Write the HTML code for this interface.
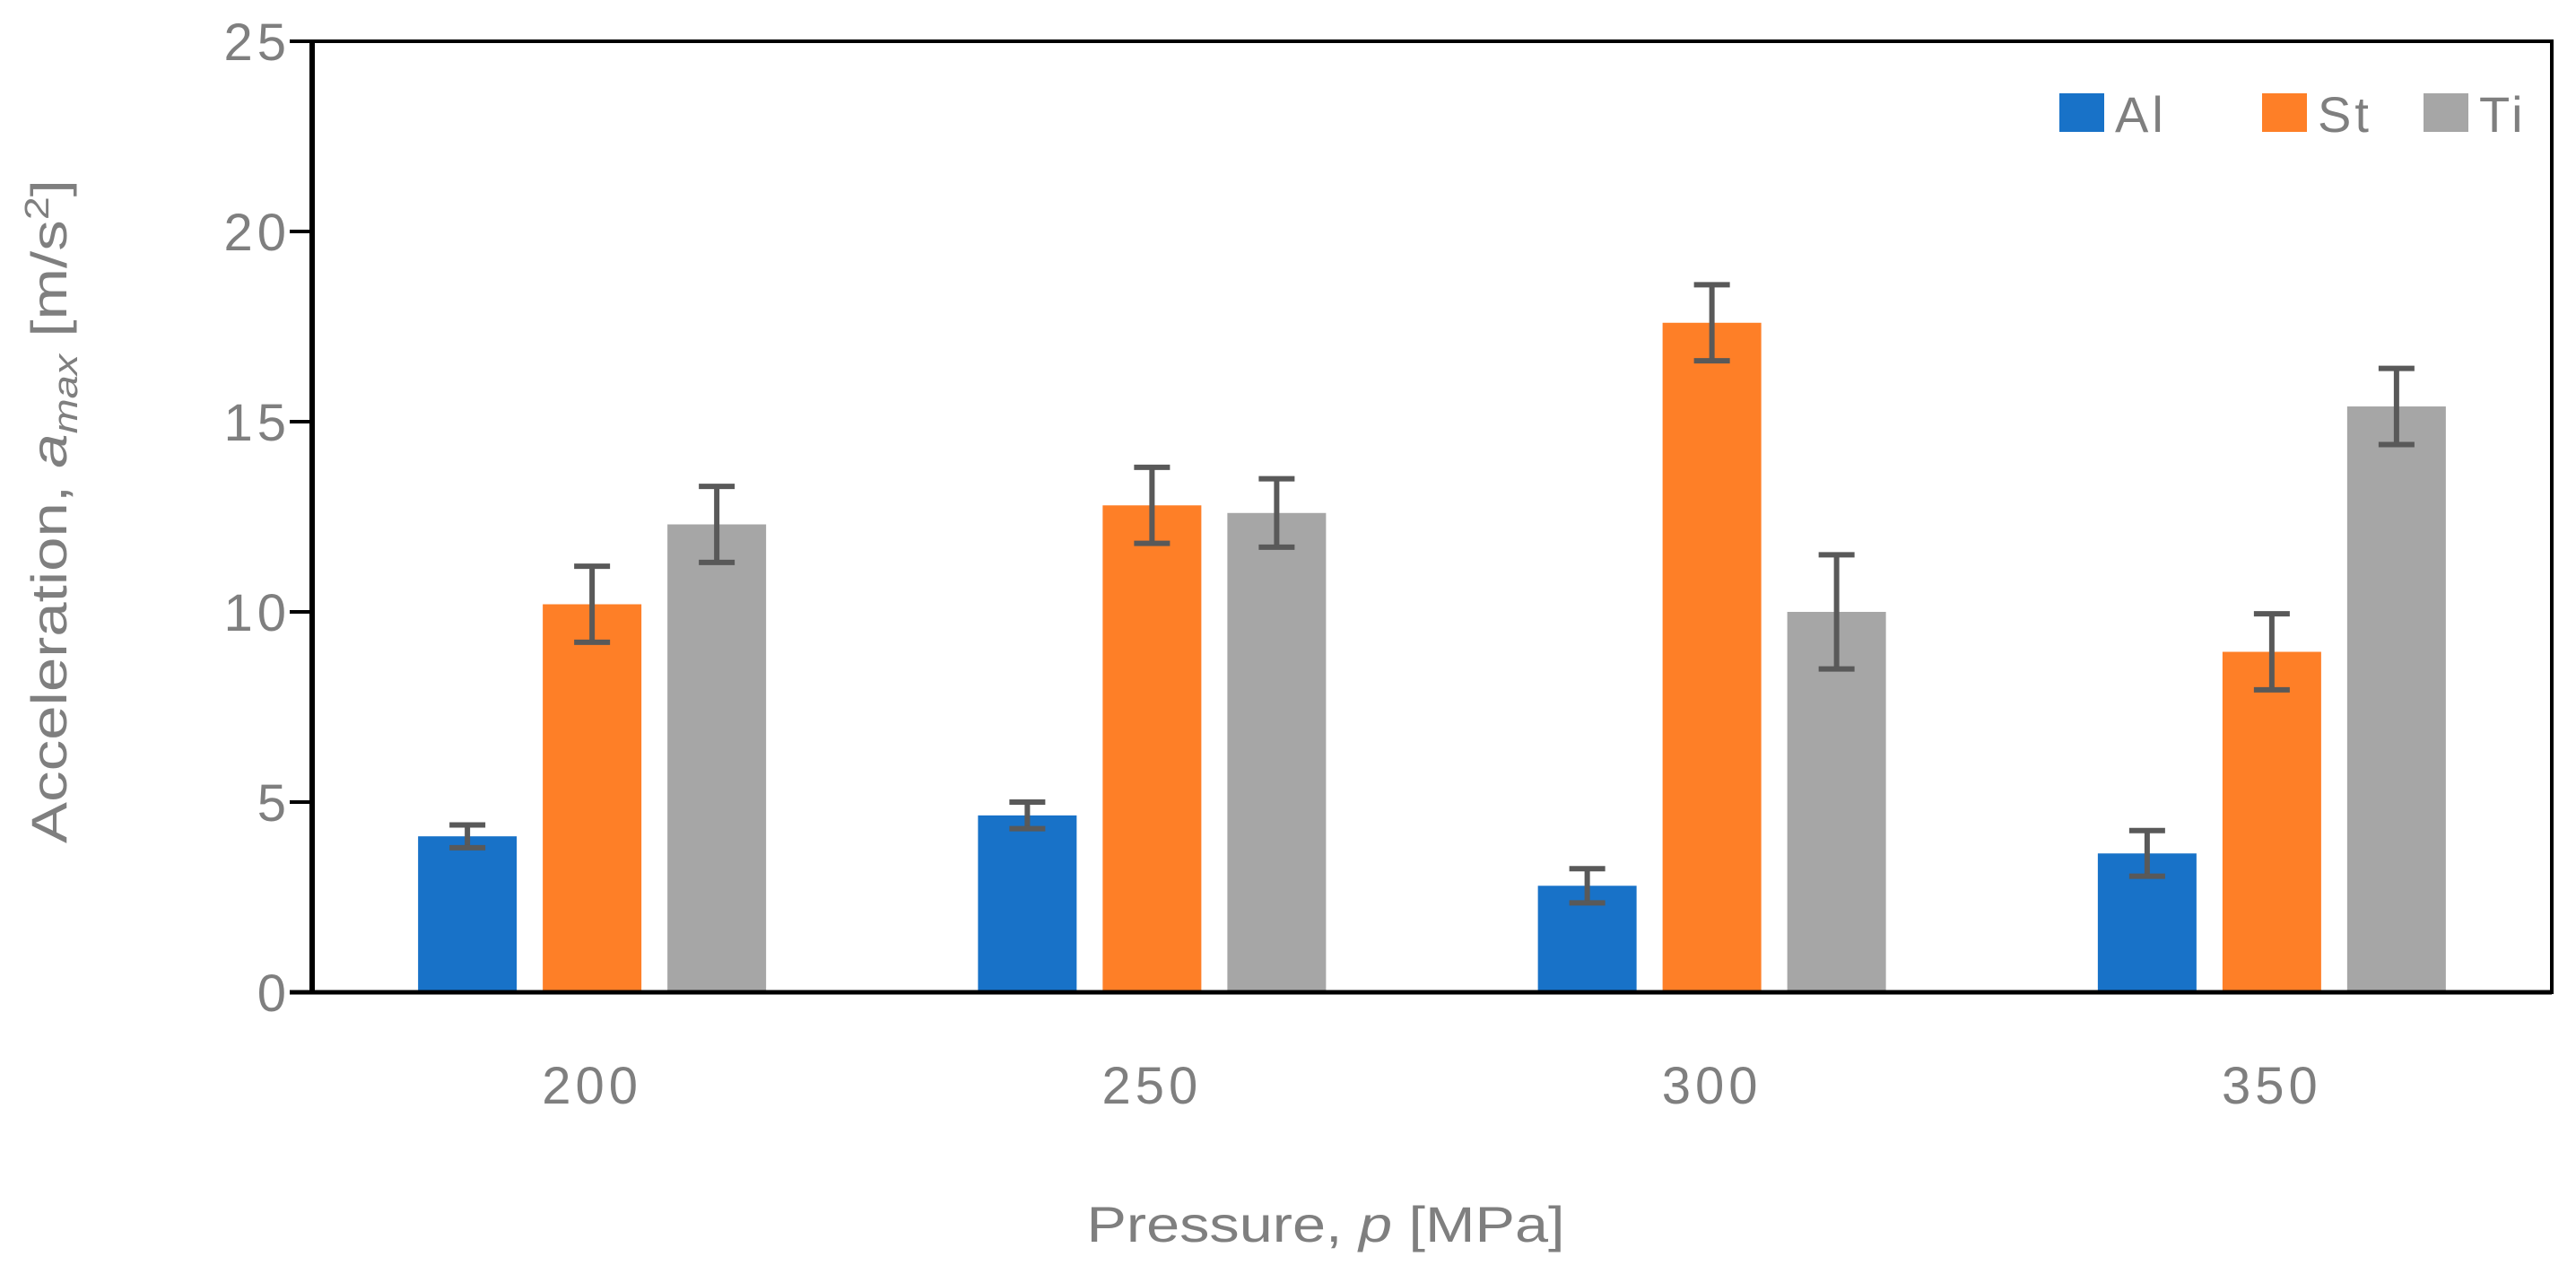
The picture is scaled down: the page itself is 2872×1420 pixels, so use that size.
<!DOCTYPE html>
<html><head><meta charset="utf-8"><style>
html,body{margin:0;padding:0;background:#fff;}
svg{display:block;font-family:"Liberation Sans",sans-serif;}
</style></head><body>
<svg id="chart" width="2872" height="1420" viewBox="0 0 2872 1420" xmlns="http://www.w3.org/2000/svg">
<g id="bars"></g>
<g id="axes"></g>
</svg>
<script>
const categories = ["200","250","300","350"];
const seriesNames = ["Al","St","Ti"];
const alValues = [4.1, 4.65, 2.8, 3.65];
const stValues = [10.2, 12.8, 17.6, 8.95];
const tiValues = [12.3, 12.6, 10.0, 15.4];
const alErrors = [0.3, 0.35, 0.45, 0.6];
const stErrors = [1.0, 1.0, 1.0, 1.0];
const tiErrors = [1.0, 0.9, 1.5, 1.0];
const yTicks = [0,5,10,15,20,25];

const NS="http://www.w3.org/2000/svg";
const L=348,R=2845,T=46,B=1106,yMax=25;
const colors=["#1872c8","#fe7f27","#a6a6a6"];
const y=v=>B-(v/yMax)*(B-T);
const catW=(R-L)/categories.length;
const cx=i=>L+catW*(i+0.5);
const barW=110,step=139;
function mk(tag,attrs,parent){const e=document.createElementNS(NS,tag);for(const k in attrs)e.setAttribute(k,attrs[k]);parent.appendChild(e);return e;}
const bars=document.getElementById('bars');
const axes=document.getElementById('axes');
const series=[alValues,stValues,tiValues];
const errs=[alErrors,stErrors,tiErrors];
series.forEach((vals,s)=>{
  vals.forEach((v,i)=>{
    const xc=cx(i)+(s-1)*step;
    const r=mk('rect',{x:xc-barW/2,y:y(v),width:barW,height:B-y(v),fill:colors[s]},bars);
    
    
    const e=errs[s][i];
    const g=mk('g',{stroke:'#595959','stroke-width':6},bars);
    
    
    mk('line',{x1:xc,x2:xc,y1:y(v+e),y2:y(v-e)},g);
    mk('line',{x1:xc-20,x2:xc+20,y1:y(v+e),y2:y(v+e)},g);
    mk('line',{x1:xc-20,x2:xc+20,y1:y(v-e),y2:y(v-e)},g);
  });
});
const fr=mk('rect',{x:L,y:T,width:R-L,height:B-T,fill:'none',stroke:'#000','stroke-width':4},axes);


const ya=mk('line',{x1:L,x2:L,y1:T,y2:B,stroke:'#000','stroke-width':6},axes);


const xa=mk('line',{x1:323,x2:R,y1:B,y2:B,stroke:'#000','stroke-width':5},axes);


yTicks.forEach(t=>{
  const tk=mk('line',{x1:323,x2:L,y1:y(t),y2:y(t),stroke:'#000','stroke-width':4},axes);
  
  
  const tx=mk('text',{x:324,y:y(t)+21,'text-anchor':'end','font-size':58,'letter-spacing':5,fill:'#7f7f7f'},axes);
  tx.textContent=t;
  
  
});
categories.forEach((c,i)=>{
  const tx=mk('text',{x:cx(i),y:1230,'text-anchor':'middle','font-size':58,'letter-spacing':5,fill:'#7f7f7f'},axes);
  tx.textContent=c;
  
  
});
const legX=[2296,2522,2702];
seriesNames.forEach((n,s)=>{
  const g=mk('g',{},axes);
  
  
  mk('rect',{x:legX[s],y:104,width:50,height:43,fill:colors[s]},g);
  const t=mk('text',{x:legX[s]+62,y:147,'font-size':56,'letter-spacing':4,fill:'#7f7f7f'},g);
  t.textContent=n;
});
</script>
<svg style="position:absolute;left:0;top:0" width="2872" height="1420">
<text x="1478" y="1384" text-anchor="middle" font-size="56" fill="#7f7f7f" textLength="533" lengthAdjust="spacingAndGlyphs" font-family="Liberation Sans, sans-serif">Pressure, <tspan font-style="italic">p</tspan> [MPa]</text>
<text transform="translate(74,570) rotate(-90)" text-anchor="middle" font-size="56" fill="#7f7f7f" font-family="Liberation Sans, sans-serif" textLength="740" lengthAdjust="spacingAndGlyphs">Acceleration, <tspan font-style="italic">a</tspan><tspan font-style="italic" font-size="38" dy="12">max</tspan><tspan dy="-12"> [m/s</tspan><tspan font-size="38" dy="-20">2</tspan><tspan dy="20">]</tspan></text>
</svg>
</body></html>
